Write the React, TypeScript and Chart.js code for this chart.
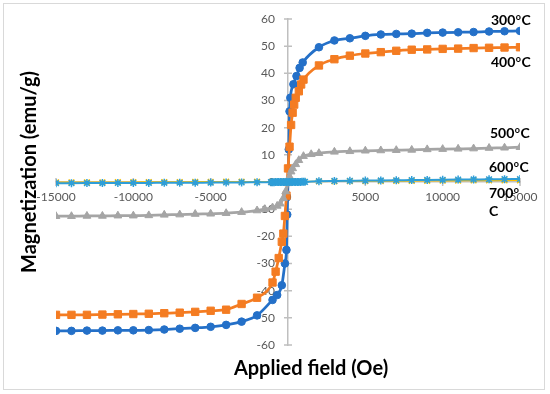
import React, { useEffect, useRef } from "react";
import { Chart, registerables } from "chart.js";

Chart.register(...registerables);

// ---- Data ----
const H_300 = [-15000, -14000, -13000, -12000, -11000, -10000, -9000, -8000, -7000, -6000, -5000, -4000, -3000, -2000,
  -1000, -700, -400, -200, -100, -50, 0, 50, 100, 150, 350, 550, 750, 950,
  2000, 3000, 4000, 5000, 6000, 7000, 8000, 9000, 10000, 11000, 12000, 13000, 14000, 15000];
const M_300 = [-54.8, -54.8, -54.7, -54.7, -54.6, -54.6, -54.5, -54.3, -54.0, -53.7, -53.3, -52.6, -51.4, -49.1,
  -43.4, -41.6, -38.0, -30.0, -25.0, -12.0, 0, 12.0, 26.0, 31.0, 36.0, 39.0, 42.0, 44.0,
  49.6, 52.1, 52.9, 53.8, 54.3, 54.5, 54.6, 54.9, 55.0, 55.1, 55.2, 55.4, 55.5, 55.6];

const H_400 = [-15000, -14000, -13000, -12000, -11000, -10000, -9000, -8000, -7000, -6000, -5000, -4000, -3000, -2000,
  -1000, -800, -600, -400, -300, -200, -100, 0, 100, 200, 300, 400, 500, 700, 850, 1000,
  2000, 3000, 4000, 5000, 6000, 7000, 8000, 9000, 10000, 11000, 12000, 13000, 14000, 15000];
const M_400 = [-48.9, -48.9, -48.9, -48.8, -48.7, -48.6, -48.5, -48.3, -48.1, -47.8, -47.4, -47.0, -44.9, -42.6,
  -37.0, -33.0, -28.0, -22.0, -19.0, -12.5, -5.0, 5.0, 13.0, 21.0, 25.5, 28.5, 31.0, 33.4, 35.9, 37.7,
  42.9, 45.2, 46.5, 47.3, 47.8, 48.3, 48.7, 48.8, 49.0, 49.1, 49.3, 49.4, 49.5, 49.6];

const H_500 = [-15000, -14000, -13000, -12000, -11000, -10000, -9000, -8000, -7000, -6000, -5000, -4000, -3000, -2000,
  -1500, -1000, -700, -500, -300, -150, 0, 100, 200, 300, 500, 700, 1000, 1500,
  2000, 3000, 4000, 5000, 6000, 7000, 8000, 9000, 10000, 11000, 12000, 13000, 14000, 15000];
const M_500 = [-12.6, -12.6, -12.5, -12.5, -12.4, -12.4, -12.3, -12.1, -12.0, -11.8, -11.7, -11.5, -11.1, -10.5,
  -10.0, -9.4, -8.8, -8.0, -6.0, -3.5, -0.5, 2.0, 3.8, 5.0, 6.5, 8.0, 9.5, 10.2,
  10.6, 11.1, 11.3, 11.5, 11.6, 11.7, 11.8, 12.0, 12.1, 12.2, 12.3, 12.5, 12.6, 12.8];

const H_600 = [-15000, -14000, -13000, -12000, -11000, -10000, -9000, -8000, -7000, -6000, -5000, -4000, -3000, -2000,
  -1000, -500, 0, 500, 1000,
  2000, 3000, 4000, 5000, 6000, 7000, 8000, 9000, 10000, 11000, 12000, 13000, 14000, 15000];
const M_600 = [-0.1, -0.1, -0.1, -0.1, -0.05, -0.05, 0, 0, 0, 0.05, 0.05, 0.1, 0.1, 0.1,
  0.1, 0.1, 0.1, 0.15, 0.15,
  0.2, 0.25, 0.3, 0.3, 0.35, 0.4, 0.4, 0.45, 0.5, 0.5, 0.55, 0.55, 0.6, 0.6];

const H_700 = [-15000, -14000, -13000, -12000, -11000, -10000, -9000, -8000, -7000, -6000, -5000, -4000, -3000, -2000,
  -1100, -1000, -900, -800, -700, -600, -500, -400, -300, -200, -100, 0, 100, 200, 300, 400, 500, 600, 700, 800, 900, 1000, 1100,
  2000, 3000, 4000, 5000, 6000, 7000, 8000, 9000, 10000, 11000, 12000, 13000, 14000, 15000];
const M_700 = [-0.45, -0.43, -0.41, -0.39, -0.37, -0.35, -0.33, -0.3, -0.28, -0.25, -0.22, -0.19, -0.15, -0.1,
  -0.06, -0.05, -0.05, -0.04, -0.04, -0.03, -0.03, -0.02, -0.02, -0.01, 0, 0, 0, 0.01, 0.02, 0.02, 0.03, 0.03, 0.04, 0.04, 0.05, 0.05, 0.06,
  0.3, 0.38, 0.45, 0.52, 0.58, 0.64, 0.7, 0.76, 0.82, 0.88, 0.94, 1.0, 1.05, 1.1];

const SERIES_TEMPS = ["300", "400", "500", "600", "700"];
const X_RANGE = [-15000, 15000];
const Y_RANGE = [-60, 60];
const X_STEP = 5000;
const Y_STEP = 10;

const FONT = "Lato, 'Open Sans', sans-serif";

export default function App() {
  const ref = useRef<HTMLCanvasElement | null>(null);

  useEffect(() => {
    document.body.style.margin = "0";
    const canvas = ref.current;
    if (!canvas) return;

    const mk = (i: number, hs: number[], ms: number[], color: string, style: any, radius: number, lineW: number, pbw: number) => ({
      label: SERIES_TEMPS[i] + "°C",
      data: hs.map((h, k) => ({ x: h, y: ms[k] })),
      borderColor: color,
      backgroundColor: color,
      pointStyle: style,
      pointRadius: radius,
      pointBorderWidth: pbw,
      pointBackgroundColor: color,
      pointBorderColor: color,
      borderWidth: lineW,
      showLine: true,
      cubicInterpolationMode: "monotone" as const,
      order: 4 - i,
    });

    const decor = {
      id: "decor",
      beforeDraw(chart: any) {
        const { ctx, width, height } = chart;
        ctx.save();
        ctx.fillStyle = "#ffffff";
        ctx.fillRect(0, 0, width, height);
        ctx.strokeStyle = "#D9D9D9";
        ctx.lineWidth = 1;
        ctx.strokeRect(3.5, 3.5, 541, 386);
        ctx.restore();
      },
      beforeDatasetsDraw(chart: any) {
        const { ctx, scales } = chart;
        const xs = scales.x, ys = scales.y;
        const x0 = xs.getPixelForValue(0);
        const y0 = ys.getPixelForValue(0);
        ctx.save();
        ctx.strokeStyle = "#BFBFBF";
        ctx.lineWidth = 1.5;
        ctx.beginPath();
        for (const t of ys.ticks) {
          const y = ys.getPixelForValue(t.value);
          ctx.moveTo(x0 - 4, y);
          ctx.lineTo(x0 + 4, y);
        }
        for (const t of xs.ticks) {
          const x = xs.getPixelForValue(t.value);
          ctx.moveTo(x, y0 - 4);
          ctx.lineTo(x, y0 + 4);
        }
        ctx.stroke();
        // y-axis tick labels, to the left of the centred axis
        ctx.fillStyle = "#595959";
        ctx.font = `12px ${FONT}`;
        ctx.textAlign = "right";
        ctx.textBaseline = "middle";
        for (const t of ys.ticks) {
          ctx.fillText(String(t.value), x0 - 13, ys.getPixelForValue(t.value));
        }
        ctx.restore();
      },
      afterDraw(chart: any) {
        const { ctx } = chart;
        ctx.save();
        ctx.fillStyle = "#000000";
        ctx.font = `bold 20px ${FONT}`;
        ctx.textAlign = "center";
        ctx.textBaseline = "middle";
        ctx.fillText("Applied field (Oe)", 311, 369);
        ctx.save();
        ctx.translate(30, 172);
        ctx.rotate(-Math.PI / 2);
        ctx.fillText("Magnetization (emu/g)", 0, 0);
        ctx.restore();

        const drawTemp = (t: string, x: number, y: number, wrap: boolean) => {
          ctx.textAlign = "left";
          ctx.textBaseline = "alphabetic";
          ctx.font = `bold 14px ${FONT}`;
          ctx.fillText(t, x, y);
          let cx = x + ctx.measureText(t).width;
          ctx.font = `bold 9px ${FONT}`;
          ctx.fillText("o", cx + 0.5, y - 5);
          cx += ctx.measureText("o").width + 1;
          ctx.font = `bold 14px ${FONT}`;
          if (wrap) ctx.fillText("C", x, y + 18);
          else ctx.fillText("C", cx, y);
        };
        drawTemp(SERIES_TEMPS[0], 491, 25, false);
        drawTemp(SERIES_TEMPS[1], 491, 67, false);
        drawTemp(SERIES_TEMPS[2], 490, 138, false);
        drawTemp(SERIES_TEMPS[3], 489, 172, false);
        drawTemp(SERIES_TEMPS[4], 489, 198, true);
        ctx.restore();
      },
    };

    const tickFont = { family: FONT, size: 12 };

    const chart = new Chart(canvas, {
      type: "scatter",
      data: {
        datasets: [
          mk(0, H_300, M_300, "#2470C8", "circle", 3.8, 2.75, 1),
          mk(1, H_400, M_400, "#F47C22", "rect", 5.2, 2.75, 1),
          mk(2, H_500, M_500, "#A5A5A5", "triangle", 4.5, 2.75, 1),
          mk(3, H_600, M_600, "#FFC000", "crossRot", 4, 1.5, 1.5),
          mk(4, H_700, M_700, "#2E9ED8", "star", 4, 2, 1.5),
        ] as any,
      },
      options: {
        animation: false,
        responsive: false,
        devicePixelRatio: 1,
        layout: { padding: { left: 56, right: 30, top: 19, bottom: 49 } },
        plugins: { legend: { display: false }, tooltip: { enabled: false } },
        scales: {
          x: {
            type: "linear",
            min: X_RANGE[0],
            max: X_RANGE[1],
            position: { y: 0 } as any,
            grid: { display: false, drawTicks: false },
            border: { display: true, color: "#BFBFBF", width: 1.5 },
            ticks: {
              stepSize: X_STEP,
              autoSkip: false,
              maxRotation: 0,
              color: "#595959",
              font: tickFont,
              padding: 8,
              callback: (v: any) => String(v),
            },
          },
          y: {
            type: "linear",
            min: Y_RANGE[0],
            max: Y_RANGE[1],
            position: { x: 0 } as any,
            grid: { display: false, drawTicks: false },
            border: { display: true, color: "#BFBFBF", width: 1.5 },
            ticks: {
              stepSize: Y_STEP,
              autoSkip: false,
              display: false,
            },
          },
        },
      },
      plugins: [decor],
    });

    return () => chart.destroy();
  }, []);

  return (
    <div style={{ position: "absolute", left: 0, top: 0, width: 550, height: 394, background: "#fff" }}>
      <canvas ref={ref} width={550} height={394} style={{ display: "block", width: 550, height: 394 }} />
    </div>
  );
}
